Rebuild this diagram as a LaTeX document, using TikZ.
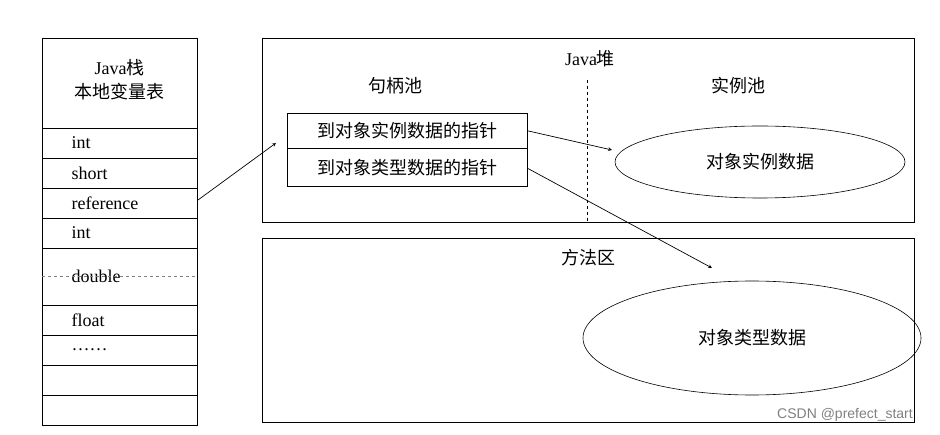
\documentclass[tikz,border=0pt]{standalone}
\usepackage{fontspec}
\usetikzlibrary{shapes.geometric}
\setmainfont{Liberation Serif}
\newfontfamily\cjk{Noto Sans CJK SC}
\begin{document}
\begin{tikzpicture}[x=1pt,y=-1pt,
  t/.style={font=\fontsize{18}{20}\selectfont},
  c/.style={font=\cjk\fontsize{18}{24}\selectfont},
  cell/.style={draw,line width=0.6pt,anchor=north west,minimum width=155pt,minimum height=30pt,inner sep=0pt},
  lab/.style={t,anchor=west},
  arr/.style={-stealth,line width=0.7pt}]
\useasboundingbox (0,0) rectangle (940,435);
% stack
\node[cell,minimum height=90pt] (hdr) at (42,38) {};
\node[c,align=center] (hdrt) at (119.5,80) {\fontspec{Liberation Serif}Java\cjk 栈\\本地变量表};
\foreach \n/\y/\h/\txt in {r1/128/30/int,r2/158/30/short,r3/188/30/reference,r4/218/30/int,r5/248/57/double,r6/305/30/float,r7/335/30/{……},r8/365/30/{},r9/395/30/{}}{
  \node[cell,minimum height=\h pt] (\n) at (42,\y) {};
  \node[lab] (\n t) at (68,\y+\h/2) {\txt};
}
\draw[dashed,gray,line width=0.6pt] (r5.west) -- (r5.east);
% heap
\node[draw,line width=0.6pt,anchor=north west,minimum width=652pt,minimum height=184pt,inner sep=0pt] (heap) at (262,38) {};
\node[c] (heapt) at (590,59) {\fontspec{Liberation Serif}Java\cjk 堆};
\coordinate (dtop) at (587,80);
\coordinate (dbot) at (587,222);
\draw[dashed,line width=0.7pt] (dtop) -- (dbot);
\node[c] (jbc) at (395,86) {句柄池};
\node[c] (slc) at (738,86) {实例池};
\node[draw,c,line width=0.6pt,anchor=north west,minimum width=240pt,minimum height=35pt,inner sep=0pt] (h1) at (287,113) {到对象实例数据的指针};
\node[draw,c,line width=0.6pt,anchor=north west,minimum width=240pt,minimum height=38pt,inner sep=0pt] (h2) at (287,148) {到对象类型数据的指针};
\node[draw,ellipse,c,line width=0.6pt,minimum width=290pt,minimum height=72pt,inner sep=0pt] (e1) at (760,162) {对象实例数据};
% method area
\node[draw,line width=0.6pt,anchor=north west,minimum width=652pt,minimum height=184pt,inner sep=0pt] (meth) at (262,238) {};
\node[c] (metht) at (588,258) {方法区};
\node[draw,ellipse,c,line width=0.6pt,minimum width=338pt,minimum height=114pt,inner sep=0pt] (e2) at (752,338) {对象类型数据};
% arrows
\coordinate (a0) at (198,200);
\coordinate (a0e) at (276,143);
\draw[arr] (a0) -- (a0e);
\draw[arr] (h1.east) -- (612,150);
\draw[arr] (527,168) -- (712,268);
\node[font=\fontspec{Liberation Sans}\fontsize{14}{16}\selectfont,text=gray] (wm) at (845,415) {CSDN @prefect\_start};
\end{tikzpicture}
\end{document}
